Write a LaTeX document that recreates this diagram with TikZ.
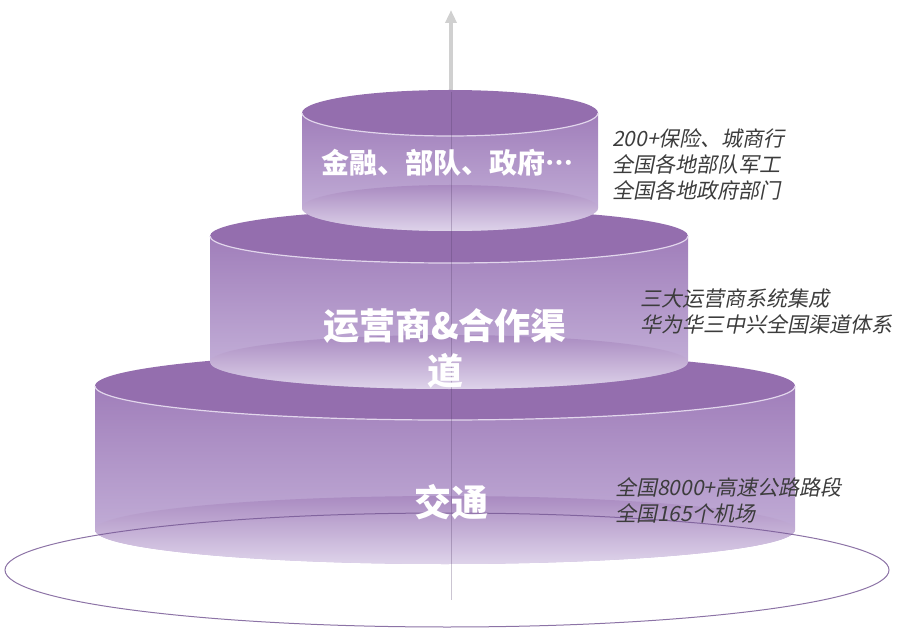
\documentclass[tikz,border=0pt]{standalone}
\usepackage{fontspec}
\setmainfont{Noto Sans CJK SC}[Script=CJK, Language=Chinese Simplified]
\newfontfamily\notefont{Noto Sans CJK SC}[FakeSlant=0.2]
\usetikzlibrary{arrows.meta}

\definecolor{cakeTop}{RGB}{148,110,174}
\definecolor{cakeSide}{RGB}{160,126,186}
\definecolor{cakeLow}{RGB}{200,182,220}
\definecolor{cakeRim}{RGB}{226,214,236}
\definecolor{axisGray}{RGB}{208,208,208}
\definecolor{noteGray}{RGB}{60,60,60}
\definecolor{baseLine}{RGB}{120,90,150}

% one layer of the cake: centre x, x radius, top y, bottom y, y radius
\newcommand{\cakelayer}[5]{%
  \shade[top color=cakeSide, bottom color=cakeLow]
    (#1-#2,#3) -- (#1-#2,#4)
    arc[start angle=180, end angle=360, x radius=#2pt, y radius=#5pt]
    -- (#1+#2,#3) -- cycle;
  \shade[top color=cakeSide!90!white, middle color=white, bottom color=cakeLow!60!white]
    (#1,#4) ellipse[x radius=#2pt, y radius=#5pt];
  \fill[cakeTop] (#1,#3) ellipse[x radius=#2pt, y radius=#5pt];
  \draw[cakeRim, line width=1.2pt] (#1-#2,#3)
    arc[start angle=180, end angle=360, x radius=#2pt, y radius=#5pt];
}

\begin{document}
\begin{tikzpicture}[x=1pt, y=-1pt,
    mainlabel/.style={text=white, inner sep=0pt},
    note/.style={text=noteGray, anchor=west, align=left, inner sep=0pt,
      font=\notefont\fontsize{21}{26}\selectfont}]
    \useasboundingbox (0,0) rectangle (897,628);

    \coordinate (axisTop) at (451,10);
    \coordinate (axisBase) at (451,92);
    \coordinate (axisFoot) at (451,600);

    \draw[axisGray, line width=3.5pt, -{Triangle[length=13pt, width=11pt]}] (axisBase) -- (axisTop);

    \cakelayer{445}{350}{386}{530}{34}
    \cakelayer{449}{239}{236}{362}{27}
    \cakelayer{450}{148}{113}{208}{23}

    \draw[baseLine!70!black, opacity=0.3, line width=0.8pt] (axisBase) -- (axisFoot);
    \draw[baseLine, opacity=0.85, line width=1pt] (447,570) ellipse[x radius=442pt, y radius=57pt];

    \node[mainlabel, font=\bfseries\fontsize{28}{32}\selectfont] (finance) at (447,163) {金融、部队、政府…};
    \node[mainlabel, align=center, font=\bfseries\fontsize{36}{45}\selectfont] (carrier) at (445,348) {运营商\&合作渠\\道};
    \node[mainlabel, font=\bfseries\fontsize{37}{40}\selectfont] (traffic) at (451,502) {交通};

    \node[note] (financeNote) at (612,165) {200+保险、城商行\\全国各地部队军工\\全国各地政府部门};
    \node[note] (carrierNote) at (640,311) {三大运营商系统集成\\华为华三中兴全国渠道体系};
    \node[note] (trafficNote) at (615,500) {全国8000+高速公路路段\\全国165个机场};
\end{tikzpicture}
\end{document}
